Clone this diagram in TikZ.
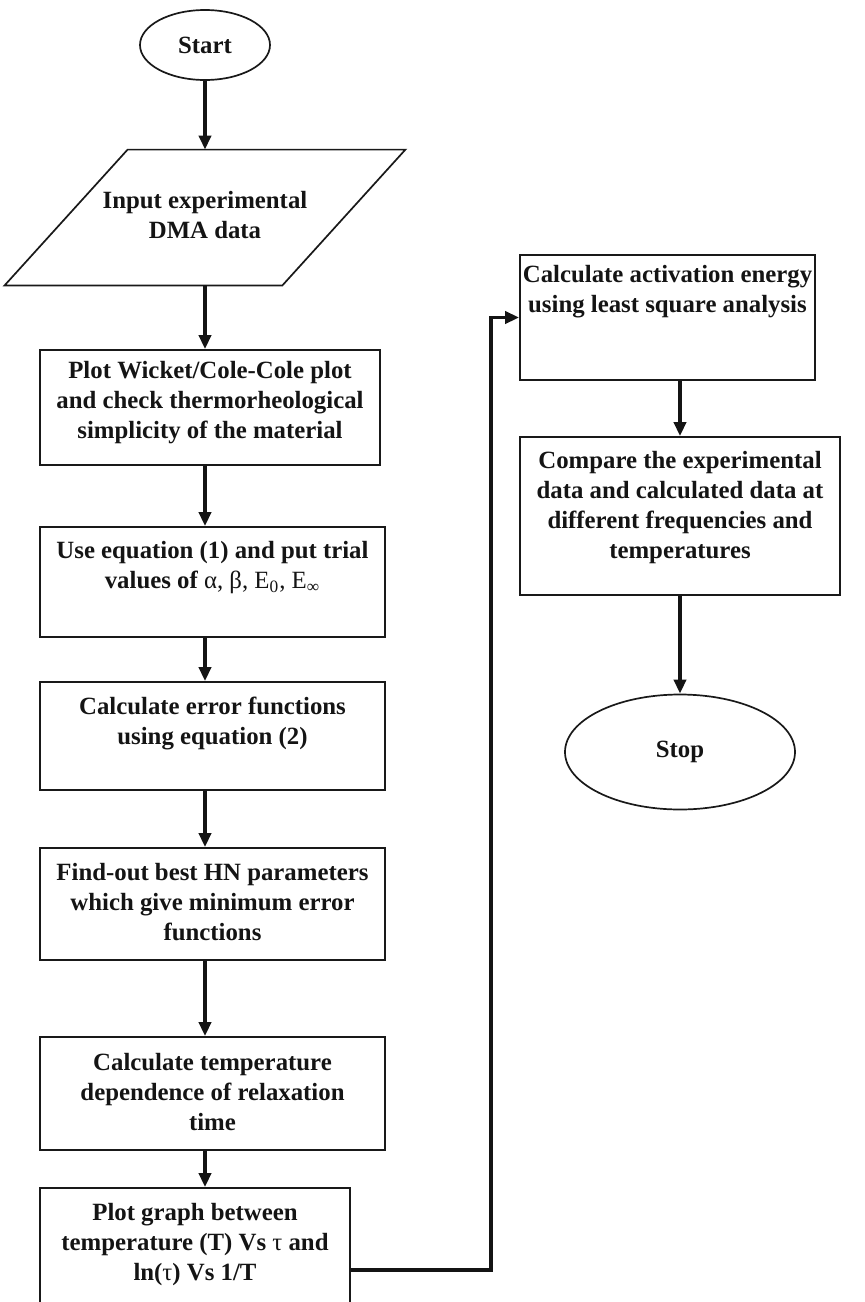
\documentclass[tikz,border=0pt]{standalone}
\usepackage{fontspec}
\setmainfont{Liberation Serif}
\usetikzlibrary{shapes.geometric,arrows.meta}
\newcommand{\fcbody}[4]{\parbox[c][#2][t]{#1}{\centering\vspace*{#3}\strut #4}}
\tikzset{
  fcfont/.style={font=\fontsize{12.4}{15}\selectfont\bfseries, text=black!92},
  fcbox/.style={draw=black!90, line width=0.85pt, rectangle, inner sep=0pt, fcfont},
  term/.style={draw=black!90, line width=0.85pt, ellipse, inner sep=0pt, fcfont},
  fcline/.style={draw=black!90, line width=0.85pt},
  arr/.style={line width=1.8pt, draw=black!92, -{Triangle[length=7pt,width=6pt]}},
}
\begin{document}
\begin{tikzpicture}[x=0.5pt,y=-0.5pt]
\useasboundingbox (0,0) rectangle (864,1302);
% left column
\node[term, minimum width=65pt, minimum height=35pt] (start) at (205,45) {Start};
\node[inner sep=0pt, minimum width=200pt, minimum height=67.5pt, fcfont] (input) at (205,217.5)
      {\raisebox{3pt}{\begin{tabular}{@{}c@{}}Input experimental\\DMA data\end{tabular}}};
\draw[fcline] ([xshift=61.5pt]input.north west) -- (input.north east)
   -- ([xshift=-61.5pt]input.south east) -- (input.south west) -- cycle;
\node[fcbox] (b1) at (210,407.5) {\fcbody{170pt}{57.5pt}{3.5pt}{Plot Wicket/Cole-Cole plot\\and check thermorheological\\simplicity of the material}};
\node[fcbox] (b2) at (212.5,582) {\fcbody{172.5pt}{55pt}{5.2pt}{Use equation (1) and put trial\\values of {\mdseries α, β, E\textsubscript{0}, E\textsubscript{∞}}}};
\node[fcbox] (b3) at (212.5,736) {\fcbody{172.5pt}{54pt}{5.8pt}{Calculate error functions\\using equation (2)}};
\node[fcbox] (b4) at (212.5,904) {\fcbody{172.5pt}{56pt}{5.8pt}{Find-out best HN parameters\\which give minimum error\\functions}};
\node[fcbox] (b5) at (212.5,1093.5) {\fcbody{172.5pt}{56.5pt}{6pt}{Calculate temperature\\dependence of relaxation\\time}};
\node[fcbox] (b6) at (195,1259) {\fcbody{155pt}{71pt}{5.6pt}{Plot graph between\\temperature (T) Vs {\mdseries τ} and\\ln({\mdseries τ}) Vs 1/T}};
% right column
\node[fcbox] (r1) at (667.5,317.5) {\fcbody{147.5pt}{62.5pt}{3.2pt}{Calculate activation energy\\using least square analysis}};
\node[fcbox] (r2) at (680,516) {\fcbody{160pt}{79pt}{5pt}{Compare the experimental\\data and calculated data at\\different frequencies and\\temperatures}};
\node[term, minimum width=115pt, minimum height=57.5pt] (stop) at (680,752) {Stop};
% connectors
\draw[arr] (start.south) -- (input.north);
\draw[arr] (input.south) -- (input.south |- b1.north);
\draw[arr] (b1.south -| input.south) -- (input.south |- b2.north);
\draw[arr] (b2.south -| input.south) -- (input.south |- b3.north);
\draw[arr] (b3.south -| input.south) -- (input.south |- b4.north);
\draw[arr] (b4.south -| input.south) -- (input.south |- b5.north);
\draw[arr] (b5.south -| input.south) -- (input.south |- b6.north);
\draw[arr] ([yshift=-5.5pt]b6.east) -- ++(140,0) |- (r1.west);
\draw[arr] (r1.south -| stop.north) -- (stop.north |- r2.north);
\draw[arr] (r2.south -| stop.north) -- (stop.north);
\end{tikzpicture}
\end{document}
